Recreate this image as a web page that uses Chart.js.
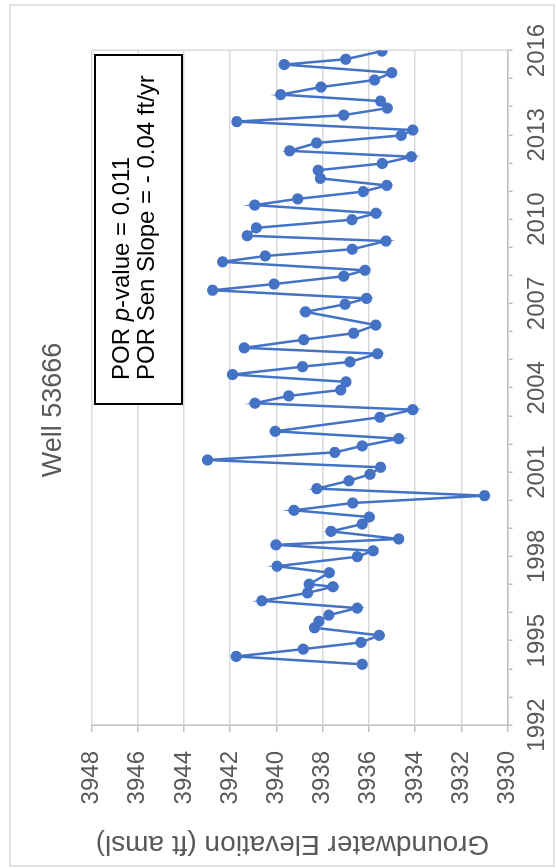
<!DOCTYPE html>
<html>
<head>
<meta charset="utf-8">
<script src="https://cdn.jsdelivr.net/npm/chart.js@4"></script>
<style>
  html, body { margin: 0; padding: 0; background: #fff; overflow: hidden; }
  /* chart is drawn landscape, then turned a quarter turn to the left */
  #wrap { position: absolute; left: 0; top: 0; width: 868px; height: 556px;
          transform-origin: 0 0; transform: translate(0, 868px) rotate(-90deg); }
</style>
</head>
<body>
<div id="wrap"><canvas id="myChart" width="868" height="556"></canvas></div>
<script>
// Sample dates (decimal years) and groundwater elevations (ft amsl)
const sample_dates = [
  1994.16, 1994.44, 1994.70, 1994.94, 1995.19, 1995.46, 1995.69, 1995.91,
  1996.16, 1996.42, 1996.70, 1996.92, 1997.01, 1997.42, 1997.65, 1997.99,
  1998.20, 1998.41, 1998.62, 1998.89, 1999.15, 1999.40, 1999.64, 1999.90,
  2000.16, 2000.41, 2000.69, 2000.92, 2001.17, 2001.43, 2001.70, 2001.93,
  2002.19, 2002.45, 2002.95, 2003.22, 2003.45, 2003.71, 2003.92, 2004.21,
  2004.47, 2004.75, 2004.92, 2005.21, 2005.42, 2005.71, 2005.94, 2006.23,
  2006.70, 2006.97, 2007.18, 2007.47, 2007.69, 2007.97, 2008.18, 2008.48,
  2008.69, 2008.93, 2009.22, 2009.41, 2009.69, 2009.98, 2010.21, 2010.50,
  2010.72, 2010.98, 2011.20, 2011.45, 2011.74, 2011.98, 2012.22, 2012.43,
  2012.71, 2012.98, 2013.17, 2013.47, 2013.70, 2013.95, 2014.20, 2014.43,
  2014.70, 2014.95, 2015.21, 2015.50, 2015.69, 2015.98
];
const elevations = [
  3936.29, 3941.74, 3938.84, 3936.34, 3935.55, 3938.35, 3938.16, 3937.73,
  3936.50, 3940.63, 3938.65, 3937.55, 3938.58, 3937.71, 3939.97, 3936.50,
  3935.81, 3940.02, 3934.71, 3937.64, 3936.29, 3935.98, 3939.24, 3936.70,
  3930.99, 3938.25, 3936.86, 3935.95, 3935.49, 3942.98, 3937.47, 3936.29,
  3934.71, 3940.05, 3935.52, 3934.10, 3940.93, 3939.47, 3937.22, 3936.99,
  3941.90, 3938.87, 3936.82, 3935.62, 3941.39, 3938.82, 3936.66, 3935.70,
  3938.74, 3937.03, 3936.10, 3942.76, 3940.10, 3937.09, 3936.17, 3942.33,
  3940.48, 3936.72, 3935.26, 3941.26, 3940.87, 3936.73, 3935.69, 3940.94,
  3939.08, 3936.24, 3935.22, 3938.10, 3938.19, 3935.42, 3934.16, 3939.43,
  3938.26, 3934.60, 3934.10, 3941.71, 3937.09, 3935.20, 3935.49, 3939.82,
  3938.07, 3935.75, 3935.01, 3939.66, 3937.00, 3935.43
];

// Axis ranges and labelled ticks
const year_labels = [1992, 1995, 1998, 2001, 2004, 2007, 2010, 2013, 2016];
const elev_min = 3930;
const elev_max = 3948;
const elev_step = 2;

const chart_title = 'Well 53666';
const axis_title = 'Groundwater Elevation (ft amsl)';
const stats_lines = [['POR ', 'p', '-value = 0.011'], ['POR Sen Slope = - 0.04 ft/yr']];

const font_family = '"Liberation Sans", Arial, sans-serif';
const grey_text = '#595959';

const points = sample_dates.map((d, i) => ({ x: d, y: elevations[i] }));

// Frame, titles and the stats box
const decorations = {
  id: 'decorations',
  beforeDraw(chart) {
    const ctx = chart.ctx;
    ctx.save();
    ctx.fillStyle = '#fff';
    ctx.fillRect(0, 0, chart.width, chart.height);
    ctx.strokeStyle = '#d9d9d9';
    ctx.lineWidth = 1.5;
    ctx.strokeRect(2, 10, 861, 544);
    ctx.restore();
  },
  afterDraw(chart) {
    const ctx = chart.ctx;
    ctx.save();
    ctx.fillStyle = grey_text;
    ctx.textAlign = 'center';
    ctx.textBaseline = 'alphabetic';
    ctx.font = '27px ' + font_family;
    ctx.fillText(chart_title, 458, 61);

    ctx.save();
    ctx.translate(24.5, 292.5);
    ctx.rotate(-Math.PI / 2);
    ctx.textBaseline = 'middle';
    ctx.font = '28px ' + font_family;
    ctx.fillText(axis_title, 0, 0);
    ctx.restore();

    // stats box
    ctx.fillStyle = '#fff';
    ctx.fillRect(464, 95, 349, 87);
    ctx.strokeStyle = '#000';
    ctx.lineWidth = 2;
    ctx.strokeRect(464, 95, 349, 87);
    ctx.fillStyle = '#000';
    ctx.textAlign = 'left';
    ctx.textBaseline = 'alphabetic';
    stats_lines.forEach((parts, li) => {
      let x = 488;
      const y = 129 + li * 24.5;
      parts.forEach((txt, pi) => {
        ctx.font = (parts.length > 1 && pi === 1 ? 'italic ' : '') + '24px ' + font_family;
        ctx.fillText(txt, x, y);
        x += ctx.measureText(txt).width;
      });
    });
    ctx.restore();
  }
};

const config = {
  type: 'line',
  data: {
    datasets: [{
      data: points,
      borderColor: '#4472c4',
      backgroundColor: '#4472c4',
      borderWidth: 2.5,
      pointRadius: 4.4,
      pointHoverRadius: 4.4,
      tension: 0
    }]
  },
  options: {
    responsive: false,
    animation: false,
    devicePixelRatio: 1,
    layout: { padding: { left: 0, right: 50.5, top: 91.5, bottom: 0 } },
    plugins: { legend: { display: false }, tooltip: { enabled: false } },
    scales: {
      x: {
        type: 'linear',
        min: 1992,
        max: 2016,
        ticks: {
          stepSize: 1,
          autoSkip: false,
          maxRotation: 0,
          padding: 10,
          color: grey_text,
          font: { family: font_family, size: 24 },
          callback: v => year_labels.includes(v) ? String(v) : ''
        },
        grid: {
          color: c => (c.tick && c.tick.value === 2016) ? '#d9d9d9' : 'rgba(0,0,0,0)',
          lineWidth: 1.5,
          tickLength: 5,
          tickColor: '#bfbfbf'
        },
        border: { color: '#bfbfbf', width: 1.5 },
        afterFit: s => { s.height = 48.5; }
      },
      y: {
        min: elev_min,
        max: elev_max,
        ticks: {
          stepSize: elev_step,
          padding: 19,
          color: grey_text,
          font: { family: font_family, size: 24 },
          callback: v => String(v)
        },
        grid: { color: '#d9d9d9', lineWidth: 1.5, tickLength: 7, tickColor: '#bfbfbf' },
        border: { color: '#bfbfbf', width: 1.5 },
        afterFit: s => { s.width = 143; }
      }
    }
  },
  plugins: [decorations]
};

const myChart = new Chart(document.getElementById('myChart'), config);
</script>
</body>
</html>
